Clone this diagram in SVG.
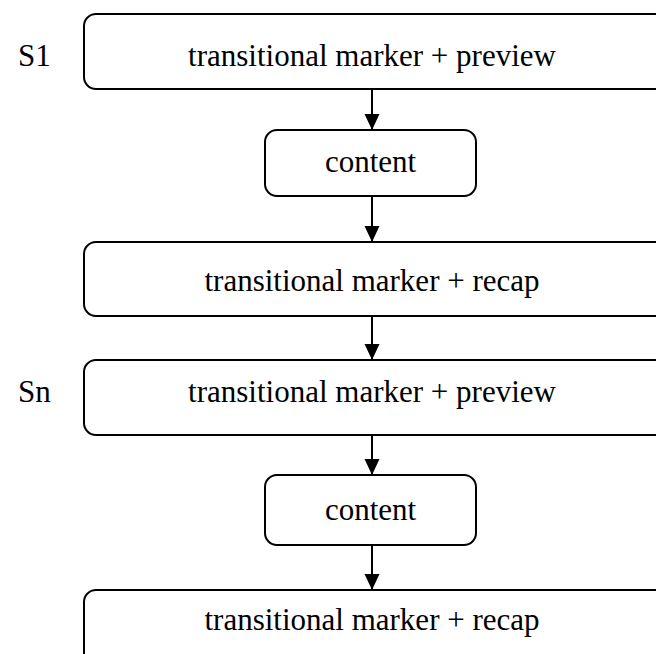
<svg xmlns="http://www.w3.org/2000/svg" width="656" height="654" viewBox="0 0 656 654">
  <style>
    .box { fill: #fff; stroke: #000; stroke-width: 2; }
    .lbl { font-family: "Liberation Serif", "Times New Roman", serif; font-size: 31px; fill: #000; }
    .mid { text-anchor: middle; }
    .edge { stroke: #000; stroke-width: 2; fill: none; }
  </style>
  <defs>
    <marker id="arrow" markerUnits="userSpaceOnUse" markerWidth="17" markerHeight="16" refX="16" refY="8" orient="auto" viewBox="0 0 17 16">
      <path d="M0,0.5 L16,8 L0,15.5 Z" fill="#000"/>
    </marker>
  </defs>

  <!-- section labels -->
  <text class="lbl" x="18" y="66">S1</text>
  <text class="lbl" x="18" y="402">Sn</text>

  <g id="s1-preview">
    <rect class="box" x="84" y="14" width="620" height="75" rx="12"/>
    <text class="lbl mid" x="372" y="66">transitional marker + preview</text>
  </g>
  <g id="s1-content">
    <rect class="box" x="265" y="130" width="211" height="66" rx="12"/>
    <text class="lbl mid" x="370.5" y="172">content</text>
  </g>
  <g id="s1-recap">
    <rect class="box" x="84" y="242" width="620" height="74" rx="12"/>
    <text class="lbl mid" x="372" y="291">transitional marker + recap</text>
  </g>
  <g id="sn-preview">
    <rect class="box" x="84" y="360" width="620" height="75" rx="12"/>
    <text class="lbl mid" x="372" y="402">transitional marker + preview</text>
  </g>
  <g id="sn-content">
    <rect class="box" x="265" y="475" width="211" height="70" rx="12"/>
    <text class="lbl mid" x="370.5" y="520">content</text>
  </g>
  <g id="sn-recap">
    <rect class="box" x="84" y="590" width="620" height="90" rx="12"/>
    <text class="lbl mid" x="372" y="630">transitional marker + recap</text>
  </g>

  <g id="connectors">
    <line class="edge" x1="372" y1="89" x2="372" y2="130" marker-end="url(#arrow)"/>
    <line class="edge" x1="372" y1="196" x2="372" y2="242" marker-end="url(#arrow)"/>
    <line class="edge" x1="372" y1="316" x2="372" y2="360" marker-end="url(#arrow)"/>
    <line class="edge" x1="372" y1="435" x2="372" y2="475" marker-end="url(#arrow)"/>
    <line class="edge" x1="372" y1="545" x2="372" y2="590" marker-end="url(#arrow)"/>
  </g>
</svg>
